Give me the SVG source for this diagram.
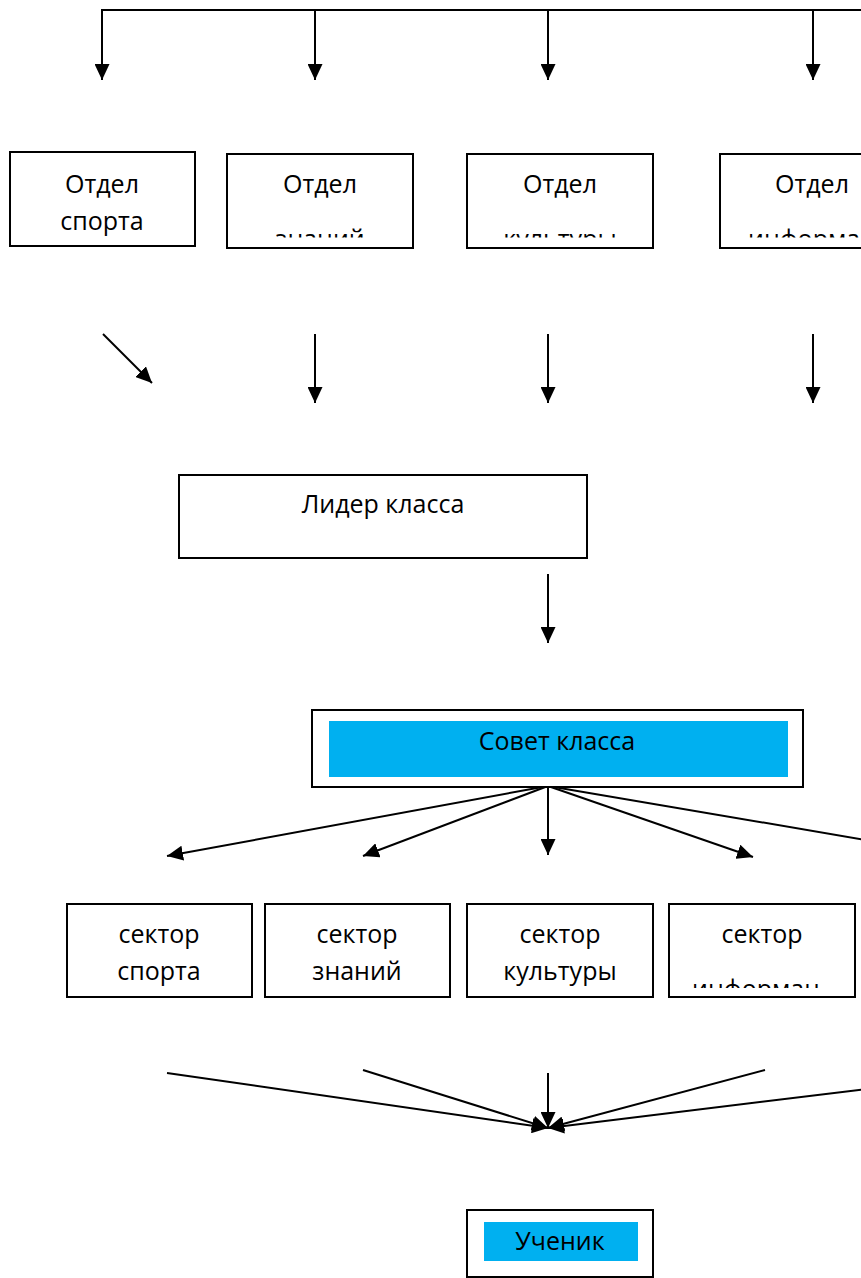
<svg xmlns="http://www.w3.org/2000/svg" width="861" height="1278" viewBox="0 0 861 1278">
<style>
.box{fill:#fff;stroke:#000;stroke-width:2}
.blue{fill:#00B0F0;stroke:none}
.t{font-family:"Open Sans","Noto Sans",sans-serif;font-size:25px;fill:#000;text-anchor:middle}
.c{stroke:#000;stroke-width:2;fill:none}
.a{marker-end:url(#ah)}
</style>
<defs>
<marker id="ah" markerUnits="userSpaceOnUse" markerWidth="17" markerHeight="15" refX="16" refY="7.5" orient="auto" viewBox="0 0 17 15">
<path d="M0,0 L16,7.5 L0,15 z" fill="#000"/>
</marker>
<clipPath id="c1"><rect x="0" y="150" width="861" height="87.5"/></clipPath>
<clipPath id="c2"><rect x="0" y="900" width="861" height="88"/></clipPath>
</defs>
<g id="connectors">
<polyline class="c" points="102,80 102,10 870,10"/>
<line class="c a" x1="102" y1="10" x2="102" y2="80"/>
<line class="c a" x1="315" y1="10" x2="315" y2="80"/>
<line class="c a" x1="548" y1="10" x2="548" y2="80"/>
<line class="c a" x1="813" y1="10" x2="813" y2="80"/>
<line class="c a" x1="103" y1="334" x2="152" y2="383"/>
<line class="c a" x1="315" y1="334" x2="315" y2="403"/>
<line class="c a" x1="548" y1="334" x2="548" y2="403"/>
<line class="c a" x1="813" y1="334" x2="813" y2="403"/>
<line class="c a" x1="548" y1="574" x2="548" y2="643"/>
<line class="c a" x1="548" y1="786" x2="167" y2="856"/>
<line class="c a" x1="548" y1="786" x2="363" y2="856"/>
<line class="c a" x1="548" y1="786" x2="548" y2="855"/>
<line class="c a" x1="548" y1="786" x2="753" y2="857"/>
<line class="c a" x1="548" y1="786" x2="960" y2="856"/>
<line class="c a" x1="167" y1="1073" x2="548" y2="1128"/>
<line class="c a" x1="363" y1="1070" x2="548" y2="1128"/>
<line class="c a" x1="548" y1="1073" x2="548" y2="1128"/>
<line class="c a" x1="765" y1="1070" x2="548" y2="1128"/>
<line class="c a" x1="900" y1="1085" x2="548" y2="1128"/>
</g>
<g id="otdel-sporta">
<rect class="box" x="10" y="152" width="185" height="94"/>
<text class="t" x="102" y="193">Отдел</text>
<text class="t" x="102" y="230">спорта</text>
</g>
<g id="otdel-znaniy">
<rect class="box" x="227" y="154" width="186" height="94"/>
<text class="t" x="320" y="193">Отдел</text>
<text class="t" x="320" y="248" clip-path="url(#c1)">знаний</text>
</g>
<g id="otdel-kultury">
<rect class="box" x="467" y="154" width="186" height="94"/>
<text class="t" x="560" y="193">Отдел</text>
<text class="t" x="560" y="248" clip-path="url(#c1)">культуры</text>
</g>
<g id="otdel-informacii">
<rect class="box" x="720" y="154" width="186" height="94"/>
<text class="t" x="812" y="193">Отдел</text>
<text class="t" x="748" y="248" style="text-anchor:start" clip-path="url(#c1)">информации</text>
</g>
<g id="lider">
<rect class="box" x="179" y="475" width="408" height="83"/>
<text class="t" x="383" y="513">Лидер класса</text>
</g>
<g id="sovet">
<rect class="box" x="312" y="710" width="491" height="77"/>
<rect class="blue" x="329" y="721" width="459" height="56"/>
<text class="t" x="557" y="750">Совет класса</text>
</g>
<g id="sektor-sporta">
<rect class="box" x="67" y="904" width="185" height="93"/>
<text class="t" x="159" y="943">сектор</text>
<text class="t" x="159" y="980">спорта</text>
</g>
<g id="sektor-znaniy">
<rect class="box" x="265" y="904" width="185" height="93"/>
<text class="t" x="357" y="943">сектор</text>
<text class="t" x="357" y="980">знаний</text>
</g>
<g id="sektor-kultury">
<rect class="box" x="467" y="904" width="186" height="93"/>
<text class="t" x="560" y="943">сектор</text>
<text class="t" x="560" y="980">культуры</text>
</g>
<g id="sektor-informacii">
<rect class="box" x="669" y="904" width="186" height="93"/>
<text class="t" x="762" y="943">сектор</text>
<text class="t" x="756" y="998" clip-path="url(#c2)">информац</text>
</g>
<g id="uchenik">
<rect class="box" x="467" y="1210" width="186" height="67"/>
<rect class="blue" x="484" y="1222" width="154" height="39"/>
<text class="t" x="560" y="1250">Ученик</text>
</g>
</svg>
